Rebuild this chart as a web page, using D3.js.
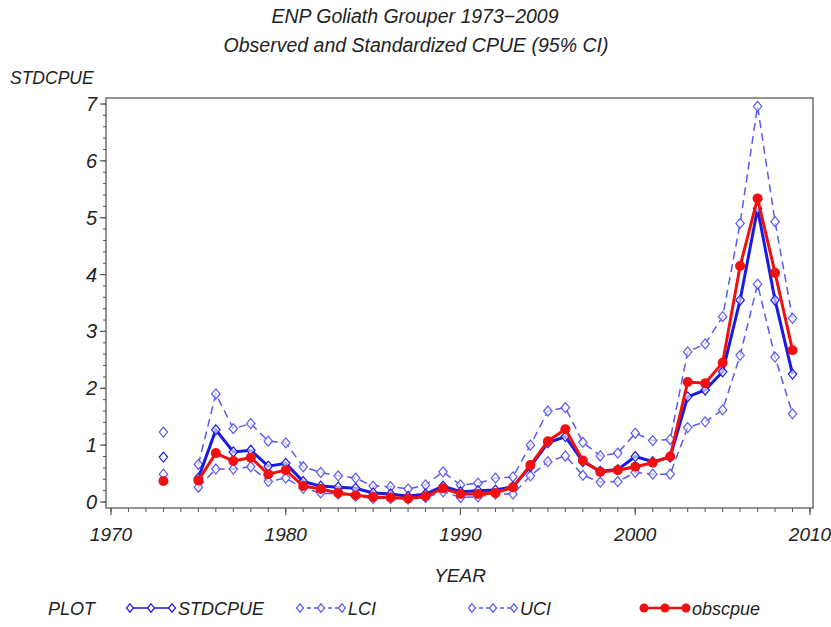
<!DOCTYPE html>
<html>
<head>
<meta charset="utf-8">
<script src="https://cdn.jsdelivr.net/npm/d3@7"></script>
<style>
  body { margin: 0; background: #fff; }
  text { font-family: "Liberation Sans", Arial, sans-serif; font-style: italic; fill: #222; }
</style>
</head>
<body>
<svg id="chart"></svg>
<script>
// Values (1974 has no data)
let years    = [1973, 1974, 1975, 1976, 1977, 1978, 1979, 1980, 1981, 1982, 1983, 1984, 1985, 1986, 1987, 1988, 1989, 1990, 1991,
                1992, 1993, 1994, 1995, 1996, 1997, 1998, 1999, 2000, 2001, 2002, 2003, 2004, 2005, 2006, 2007, 2008, 2009];
let stdcpue  = [0.79, null, 0.42, 1.27, 0.88, 0.91, 0.63, 0.68, 0.36, 0.28, 0.26, 0.24, 0.16, 0.14, 0.10, 0.14, 0.28, 0.18, 0.20,
                0.21, 0.27, 0.62, 1.04, 1.15, 0.71, 0.54, 0.57, 0.80, 0.71, 0.79, 1.85, 1.97, 2.29, 3.55, 5.16, 3.55, 2.25];
let lci      = [0.49, null, 0.26, 0.58, 0.58, 0.62, 0.36, 0.42, 0.24, 0.16, 0.14, 0.10, 0.06, 0.06, 0.05, 0.08, 0.18, 0.08, 0.09,
                0.14, 0.14, 0.46, 0.71, 0.81, 0.47, 0.35, 0.36, 0.52, 0.49, 0.49, 1.31, 1.41, 1.62, 2.58, 3.83, 2.55, 1.55];
let uci      = [1.23, null, 0.66, 1.90, 1.29, 1.38, 1.07, 1.04, 0.62, 0.52, 0.46, 0.42, 0.28, 0.27, 0.23, 0.30, 0.53, 0.30, 0.33,
                0.42, 0.44, 1.00, 1.60, 1.66, 1.05, 0.81, 0.86, 1.21, 1.08, 1.10, 2.64, 2.78, 3.26, 4.90, 6.96, 4.93, 3.23];
let obscpue  = [0.37, null, 0.38, 0.86, 0.72, 0.78, 0.49, 0.56, 0.28, 0.23, 0.16, 0.12, 0.09, 0.08, 0.06, 0.10, 0.24, 0.14, 0.14,
                0.16, 0.26, 0.65, 1.07, 1.28, 0.73, 0.53, 0.56, 0.62, 0.69, 0.80, 2.11, 2.09, 2.45, 4.15, 5.34, 4.03, 2.67];

let yTicks = [0, 1, 2, 3, 4, 5, 6, 7];
let xTicks = [1970, 1980, 1990, 2000, 2010];

let width = 831;
let height = 627;

let svg = d3.select("#chart").attr("width", width).attr("height", height);

let x = d3.scaleLinear().domain([1970, 2010]).range([111, 810]);
let y = d3.scaleLinear().domain([0, 7]).range([502, 104]);

// Frame
let frameLeft = 106, frameRight = 813, frameTop = 98, frameBottom = 508;
svg.append("rect")
    .attr("x", frameLeft).attr("y", frameTop)
    .attr("width", frameRight - frameLeft).attr("height", frameBottom - frameTop)
    .attr("fill", "none").attr("stroke", "#707070").attr("stroke-width", 1.5);

// Titles
svg.append("text").attr("x", 415).attr("y", 23).attr("text-anchor", "middle")
    .style("font-size", "19.5px").text("ENP Goliath Grouper 1973\u22122009");
svg.append("text").attr("x", 416).attr("y", 52).attr("text-anchor", "middle")
    .style("font-size", "19.5px").text("Observed and Standardized CPUE (95% CI)");
svg.append("text").attr("x", 10).attr("y", 84)
    .style("font-size", "17.5px").text("STDCPUE");
svg.append("text").attr("x", 460).attr("y", 582).attr("text-anchor", "middle")
    .style("font-size", "19px").text("YEAR");

// Y axis ticks (major + 4 minor)
let yMinor = d3.range(0, 7.001, 0.2);
svg.append("g").selectAll("line").data(yMinor).enter().append("line")
    .attr("x1", frameLeft).attr("x2", frameLeft - 3)
    .attr("y1", function(d){ return y(d); }).attr("y2", function(d){ return y(d); })
    .attr("stroke", "#555").attr("stroke-width", 1);
svg.append("g").selectAll("line").data(yTicks).enter().append("line")
    .attr("x1", frameLeft).attr("x2", frameLeft - 6)
    .attr("y1", function(d){ return y(d); }).attr("y2", function(d){ return y(d); })
    .attr("stroke", "#555").attr("stroke-width", 1.2);
svg.append("g").selectAll("text").data(yTicks).enter().append("text")
    .attr("x", 97).attr("y", function(d){ return y(d) + 7; })
    .attr("text-anchor", "end").style("font-size", "20px")
    .text(function(d){ return d; });

// X axis ticks (major + yearly minor)
let xMinor = d3.range(1970, 2011, 1);
svg.append("g").selectAll("line").data(xMinor).enter().append("line")
    .attr("x1", function(d){ return x(d); }).attr("x2", function(d){ return x(d); })
    .attr("y1", frameBottom).attr("y2", frameBottom + 4)
    .attr("stroke", "#555").attr("stroke-width", 1);
svg.append("g").selectAll("line").data(xTicks).enter().append("line")
    .attr("x1", function(d){ return x(d); }).attr("x2", function(d){ return x(d); })
    .attr("y1", frameBottom).attr("y2", frameBottom + 7)
    .attr("stroke", "#555").attr("stroke-width", 1.2);
svg.append("g").selectAll("text").data(xTicks).enter().append("text")
    .attr("x", function(d){ return x(d); }).attr("y", 541)
    .attr("text-anchor", "middle").style("font-size", "19px")
    .text(function(d){ return d; });

// Series helpers
function points(values){
    return years.map(function(yr, i){ return {year: yr, value: values[i]}; });
}
let line = d3.line()
    .defined(function(d){ return d.value !== null; })
    .x(function(d){ return x(d.year); })
    .y(function(d){ return y(d.value); });

// diamond marker, a bit wider than d3's default one
function diamondPath(w, h){
    return "M0," + (-h) + "L" + w + ",0L0," + h + "L" + (-w) + ",0Z";
}

function drawSeries(values, color, lineWidth, dash, marker){
    let data = points(values);
    svg.append("path").datum(data)
        .attr("d", line)
        .attr("fill", "none")
        .attr("stroke", color)
        .attr("stroke-width", lineWidth)
        .attr("stroke-dasharray", dash);
    let defined = data.filter(function(d){ return d.value !== null; });
    if(marker === "diamond"){
        svg.append("g").selectAll("path").data(defined).enter().append("path")
            .attr("d", diamondPath(4.2, 5))
            .attr("transform", function(d){ return "translate(" + x(d.year) + "," + y(d.value) + ")"; })
            .attr("fill", "#fff").attr("fill-opacity", 0.6)
            .attr("stroke", color).attr("stroke-width", 1.2);
    } else {
        svg.append("g").selectAll("circle").data(defined).enter().append("circle")
            .attr("cx", function(d){ return x(d.year); })
            .attr("cy", function(d){ return y(d.value); })
            .attr("r", 5)
            .attr("fill", color);
    }
}

let ciColor = "#5a5af0";
let stdColor = "#1a1ae6";
let obsColor = "#f01010";

drawSeries(uci, ciColor, 1.5, "8,5", "diamond");
drawSeries(lci, ciColor, 1.5, "8,5", "diamond");
drawSeries(stdcpue, stdColor, 3, null, "diamond");
drawSeries(obscpue, obsColor, 3, null, "circle");

// Legend
let legendY = 608;
svg.append("text").attr("x", 48).attr("y", legendY + 7).style("font-size", "18px").text("PLOT");

let legendItems = [
    {name: "STDCPUE", color: stdColor, dash: null, marker: "diamond", x: 130},
    {name: "LCI", color: ciColor, dash: "4,3", marker: "diamond", x: 300},
    {name: "UCI", color: ciColor, dash: "4,3", marker: "diamond", x: 472},
    {name: "obscpue", color: obsColor, dash: null, marker: "circle", x: 644}
];
legendItems.forEach(function(item){
    let g = svg.append("g");
    g.append("line")
        .attr("x1", item.x).attr("x2", item.x + 42)
        .attr("y1", legendY).attr("y2", legendY)
        .attr("stroke", item.color).attr("stroke-width", item.marker === "circle" ? 2.5 : 1.5)
        .attr("stroke-dasharray", item.dash);
    [0, 21, 42].forEach(function(dx){
        if(item.marker === "diamond"){
            g.append("path").attr("d", diamondPath(3.5, 4.2))
                .attr("transform", "translate(" + (item.x + dx) + "," + legendY + ")")
                .attr("fill", "#fff").attr("stroke", item.color).attr("stroke-width", 1.2);
        } else {
            g.append("circle").attr("cx", item.x + dx).attr("cy", legendY).attr("r", 4.5).attr("fill", item.color);
        }
    });
    g.append("text").attr("x", item.x + 48).attr("y", legendY + 7)
        .style("font-size", "18px").text(item.name);
});
</script>
</body>
</html>
